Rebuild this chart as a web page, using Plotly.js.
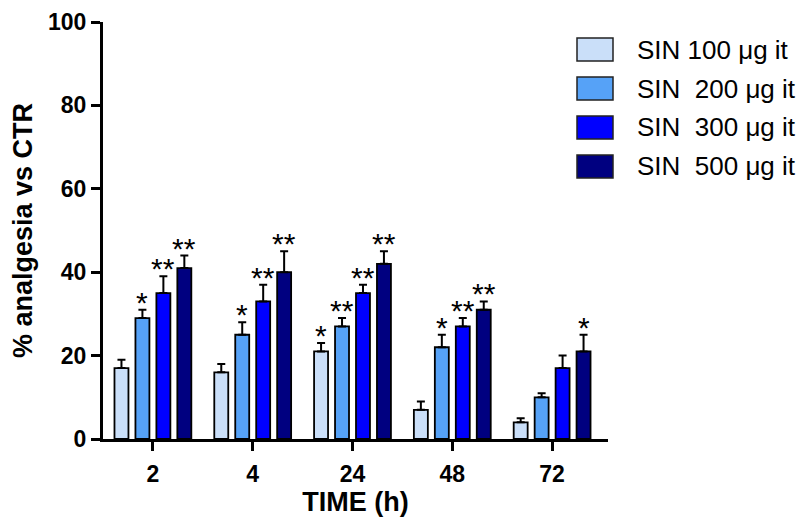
<!DOCTYPE html>
<html>
<head>
<meta charset="utf-8">
<script src="https://cdn.plot.ly/plotly-3.0.1.min.js"></script>
<style>html,body{margin:0;padding:0;background:#fff;}#chart{width:807px;height:517px;}</style>
</head>
<body>
<div id="chart"></div>
<script>
// ---- data ----
const categories = ['2', '4', '24', '48', '72'];
const seriesNames = ['SIN 100 \u03bcg it', 'SIN\u00a0 200 \u03bcg it', 'SIN\u00a0 300 \u03bcg it', 'SIN\u00a0 500 \u03bcg it'];
const sin100 = [17, 16, 21, 7, 4];
const sin200 = [29, 25, 27, 22, 10];
const sin300 = [35, 33, 35, 27, 17];
const sin500 = [41, 40, 42, 31, 21];
const err100 = [2, 2, 2, 2, 1];
const err200 = [2, 3, 2, 3, 1];
const err300 = [4, 4, 2, 2, 3];
const err500 = [3, 5, 3, 2, 4];
const sig100 = ['', '', '*', '', ''];
const sig200 = ['*', '*', '**', '*', ''];
const sig300 = ['**', '**', '**', '**', ''];
const sig500 = ['**', '**', '**', '**', '*'];
const colors = ['#cadff9', '#56a2f7', '#0000ff', '#000080'];

const values = [sin100, sin200, sin300, sin500];
const errors = [err100, err200, err300, err500];
const sigs = [sig100, sig200, sig300, sig500];

// ---- layout constants ----
const W = 807, H = 517;
const M = {l: 103, r: 199, t: 22, b: 78};
const FONT = 'Liberation Sans, Arial, sans-serif';
const bargap = 0.16;
const slot = (1 - bargap) / values.length;
const plotW = W - M.l - M.r, plotH = H - M.t - M.b;
const px2x = p => (p - M.l) / plotW;
const px2y = p => (H - M.b - p) / plotH;

const traces = values.map((v, j) => ({
  type: 'bar',
  name: seriesNames[j],
  x: categories,
  y: v,
  marker: {color: colors[j], line: {color: '#000', width: 1.8}},
  error_y: {type: 'data', symmetric: false, array: errors[j], arrayminus: v.map(() => 0),
            color: '#000', thickness: 2, width: 4},
  showlegend: false,
  hoverinfo: 'skip'
}));

const annotations = [];
sigs.forEach((s, j) => {
  s.forEach((t, i) => {
    if (!t) return;
    annotations.push({
      xref: 'x', yref: 'y', x: i + (j - 1.5) * slot, y: values[j][i] + errors[j][i],
      text: t, showarrow: false, xanchor: 'center', yanchor: 'bottom', yshift: -11,
      font: {family: FONT, size: 30, color: '#000'}
    });
  });
});

// custom legend
const shapes = [];
const legX0 = 577, legX1 = 613, legTop = 38, boxH = 23, rowStep = 39, textX = 635;
seriesNames.forEach((n, j) => {
  const top = legTop + j * rowStep;
  shapes.push({type: 'rect', xref: 'paper', yref: 'paper',
    x0: px2x(legX0), x1: px2x(legX1), y0: px2y(top + boxH), y1: px2y(top),
    fillcolor: colors[j], line: {color: '#222', width: 1.5}});
  annotations.push({xref: 'paper', yref: 'paper', x: px2x(textX), y: px2y(top + boxH / 2),
    xanchor: 'left', yanchor: 'middle', showarrow: false, text: n,
    font: {family: FONT, size: 26, color: '#000'}});
});

const axisCommon = {
  showline: true, linewidth: 3, linecolor: '#000', ticks: 'outside', ticklen: 9, tickwidth: 3,
  tickcolor: '#000', showgrid: false, zeroline: false,
  tickfont: {family: FONT, size: 23, color: '#000', weight: 'bold'}
};

const layout = {
  width: W, height: H,
  margin: {l: M.l, r: M.r, t: M.t, b: M.b, pad: 0},
  paper_bgcolor: '#fff', plot_bgcolor: '#fff',
  barmode: 'group', bargap: bargap, bargroupgap: 1 / 3,
  showlegend: false,
  xaxis: Object.assign({}, axisCommon, {
    type: 'category', range: [-0.5, 4.56], ticklabelstandoff: 3,
    title: {text: 'TIME (h)', standoff: 9, font: {family: FONT, size: 27, color: '#000', weight: 'bold'}}
  }),
  yaxis: Object.assign({}, axisCommon, {
    range: [0, 100], tickvals: [0, 20, 40, 60, 80, 100],
    title: {text: '% analgesia vs CTR', standoff: 8, font: {family: FONT, size: 27, color: '#000', weight: 'bold'}}
  }),
  annotations: annotations,
  shapes: shapes
};

Plotly.newPlot('chart', traces, layout, {staticPlot: true, displayModeBar: false});
</script>
</body>
</html>
